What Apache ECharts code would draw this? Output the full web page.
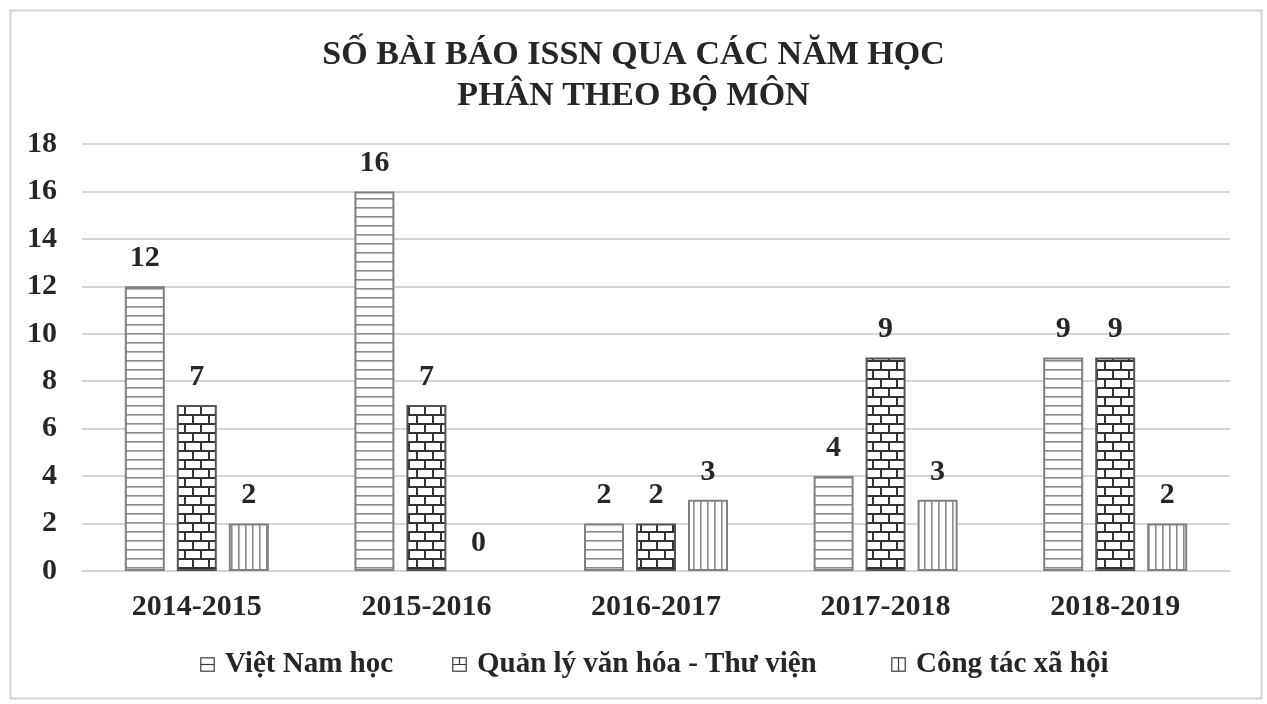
<!DOCTYPE html>
<html>
<head>
<meta charset="utf-8">
<script src="https://cdn.jsdelivr.net/npm/echarts@6/dist/echarts.min.js"></script>
<style>
  html, body { margin: 0; padding: 0; background: #fff; }
  #chart { width: 1267px; height: 704px; }
</style>
</head>
<body>
<div id="chart"></div>
<script>
// data
const years = ['2014-2015', '2015-2016', '2016-2017', '2017-2018', '2018-2019']
const seriesNames = ['Việt Nam học', 'Quản lý văn hóa - Thư viện', 'Công tác xã hội']
const vietNamHoc = [12, 16, 2, 4, 9]
const quanLyVanHoa = [7, 7, 2, 9, 9]
const congTacXaHoi = [2, 0, 3, 3, 2]
const yTicks = { min: 0, max: 18, interval: 2 }

const FONT = '"Liberation Serif", "Times New Roman", serif'
const TEXT = '#262626'

// tile patterns for the bars
function makeCanvas(w, h) {
  const c = document.createElement('canvas')
  c.width = w
  c.height = h
  return c
}

function horizontalPattern() {
  const c = makeCanvas(8, 9)
  const ctx = c.getContext('2d')
  ctx.fillStyle = '#fff'
  ctx.fillRect(0, 0, 8, 9)
  ctx.fillStyle = '#8a8a8a'
  ctx.fillRect(0, 0, 8, 1.6)
  return c
}

function brickPattern() {
  const c = makeCanvas(16, 18)
  const ctx = c.getContext('2d')
  ctx.fillStyle = '#fff'
  ctx.fillRect(0, 0, 16, 18)
  ctx.fillStyle = '#333'
  ctx.fillRect(0, 0, 16, 2)
  ctx.fillRect(0, 9, 16, 2)
  ctx.fillRect(0, 0, 2, 9)
  ctx.fillRect(8, 9, 2, 9)
  return c
}

function verticalPattern() {
  const c = makeCanvas(7, 8)
  const ctx = c.getContext('2d')
  ctx.fillStyle = '#fff'
  ctx.fillRect(0, 0, 7, 8)
  ctx.fillStyle = '#8a8a8a'
  ctx.fillRect(0, 0, 1.6, 8)
  return c
}

// little legend glyphs
function legendIcon(type) {
  const c = makeCanvas(15, 15)
  const ctx = c.getContext('2d')
  ctx.strokeStyle = '#3a3a3a'
  ctx.lineWidth = 1.2
  ctx.strokeRect(0.8, 0.8, 13.4, 13.4)
  ctx.beginPath()
  if (type === 0) {
    ctx.moveTo(0.8, 7.5); ctx.lineTo(14.2, 7.5)
  } else if (type === 1) {
    ctx.moveTo(0.8, 7.5); ctx.lineTo(14.2, 7.5)
    ctx.moveTo(7.5, 0.8); ctx.lineTo(7.5, 7.5)
  } else {
    ctx.moveTo(7.5, 0.8); ctx.lineTo(7.5, 14.2)
  }
  ctx.stroke()
  return 'image://' + c.toDataURL()
}

const patterns = [horizontalPattern(), brickPattern(), verticalPattern()]
const values = [vietNamHoc, quanLyVanHoa, congTacXaHoi]
const legendLeft = [195, 447, 886]

const myChart = echarts.init(document.getElementById('chart'))

const series = seriesNames.map((name, i) => ({
  name: name,
  type: 'bar',
  // a zero bar has no outline in the original
  data: values[i].map(v => (v === 0 ? { value: v, itemStyle: { borderWidth: 0 } } : v)),
  barWidth: 40,
  barGap: '30%',
  itemStyle: {
    color: { image: patterns[i], repeat: 'repeat' },
    borderColor: i === 1 ? '#555' : '#808080',
    borderWidth: 2
  },
  label: {
    show: true,
    position: 'top',
    distance: 13,
    color: TEXT,
    fontFamily: FONT,
    fontWeight: 'bold',
    fontSize: 30
  }
}))

const legends = seriesNames.map((n, i) => ({
  left: legendLeft[i],
  bottom: 20,
  itemWidth: 15,
  itemHeight: 15,
  itemGap: 0,
  data: [{ name: n, icon: legendIcon(i) }],
  textStyle: {
    fontFamily: FONT,
    fontWeight: 'bold',
    fontSize: 29,
    color: TEXT,
    padding: [0, 0, 0, 5]
  }
}))

const option = {
  animation: false,
  backgroundColor: '#fff',
  graphic: [
    {
      type: 'rect',
      left: 8,
      top: 8,
      shape: { width: 1251, height: 688 },
      style: { fill: 'none', stroke: '#d4d4d4', lineWidth: 2 }
    }
  ],
  title: {
    text: 'SỐ BÀI BÁO ISSN QUA CÁC NĂM HỌC\nPHÂN THEO BỘ MÔN',
    left: 'center',
    top: 30,
    textStyle: {
      fontFamily: FONT,
      fontWeight: 'bold',
      fontSize: 34,
      lineHeight: 41,
      color: TEXT
    }
  },
  legend: legends,
  grid: {
    left: 82,
    right: 37,
    top: 144,
    bottom: 133
  },
  xAxis: {
    type: 'category',
    data: years,
    axisTick: { show: false },
    axisLine: { lineStyle: { color: '#d4d4d4', width: 2 } },
    axisLabel: {
      margin: 21,
      color: TEXT,
      fontFamily: FONT,
      fontWeight: 'bold',
      fontSize: 30
    }
  },
  yAxis: {
    type: 'value',
    min: yTicks.min,
    max: yTicks.max,
    interval: yTicks.interval,
    axisLine: { show: false },
    axisTick: { show: false },
    splitLine: { lineStyle: { color: '#d4d4d4', width: 2 } },
    axisLabel: {
      margin: 25,
      color: TEXT,
      fontFamily: FONT,
      fontWeight: 'bold',
      fontSize: 30
    }
  },
  series: series
}
myChart.setOption(option)
</script>
</body>
</html>
